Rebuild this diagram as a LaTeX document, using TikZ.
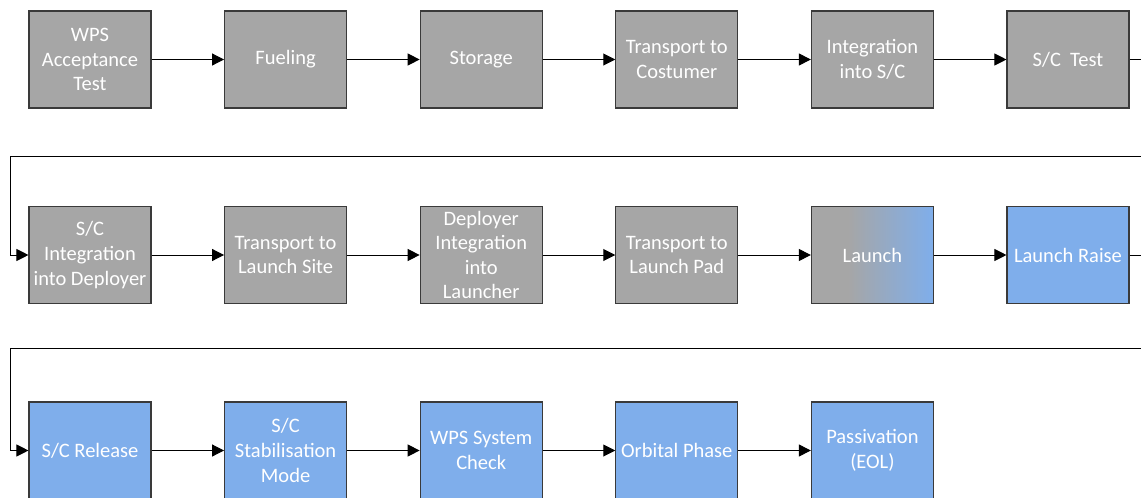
\documentclass[tikz,border=0pt]{standalone}
\usepackage{fontspec}
\setmainfont{Carlito}
\usetikzlibrary{arrows.meta}
\definecolor{boxgray}{HTML}{A6A6A6}
\definecolor{boxblue}{HTML}{7FAEEB}
\definecolor{boxline}{HTML}{3A3A3A}
% grey-to-blue blend for the launch stage
\pgfdeclarehorizontalshading{launchshade}{100bp}{color(0bp)=(boxgray); color(40bp)=(boxgray); color(75bp)=(boxblue); color(100bp)=(boxblue)}
\begin{document}
\begin{tikzpicture}[x=1pt,y=-1pt,
  stage/.style={draw=boxline, line width=1.1pt, minimum width=122pt, minimum height=97pt,
    inner sep=0pt, text=white, align=center, font=\fontsize{20.5}{24.6}\selectfont},
  ground/.style={stage, fill=boxgray},
  orbit/.style={stage, fill=boxblue},
  flow/.style={line width=1pt, draw=black, -{Triangle[length=12pt,width=12pt]}}]
\useasboundingbox (0,0) rectangle (1141,498);
\clip (0,0) rectangle (1141,498);

% row 1: ground segment
\node[ground] (acc)  at (90,59.5)    {WPS\\Acceptance\\Test};
\node[ground] (fuel) at (285.6,59.5) {Fueling};
\node[ground] (stor) at (481.2,59.5) {Storage};
\node[ground] (tcus) at (676.8,59.5) {Transport to\\Costumer};
\node[ground] (isc)  at (872.4,59.5) {Integration\\into S/C};
\node[ground] (sct)  at (1068,59.5)  {S/C\ \ Test};

% row 2: launch campaign
\node[ground] (idep) at (90,255)    {S/C\\Integration\\into Deployer};
\node[ground] (tls)  at (285.6,255) {Transport to\\Launch Site};
\node[ground] (dil)  at (481.2,255) {Deployer\\Integration\\into\\Launcher};
\node[ground] (tlp)  at (676.8,255) {Transport to\\Launch Pad};
\node[stage, shade, shading=launchshade] (lau) at (872.4,255) {Launch};
\node[orbit]  (lr)   at (1068,255)  {Launch Raise};

% row 3: in orbit
\node[orbit] (rel)  at (90,450.5)    {S/C Release};
\node[orbit] (stab) at (285.6,450.5) {S/C\\Stabilisation\\Mode};
\node[orbit] (chk)  at (481.2,450.5) {WPS System\\Check};
\node[orbit] (orb)  at (676.8,450.5) {Orbital Phase};
\node[orbit] (pas)  at (872.4,450.5) {Passivation\\(EOL)};

% wrap-around turning points
\coordinate (r1) at (1160,59.5);
\coordinate (w1) at (10.3,156.7);
\coordinate (r2) at (1160,255);
\coordinate (w2) at (10.3,348.3);

\draw[flow] (acc) -- (fuel);
\draw[flow] (fuel) -- (stor);
\draw[flow] (stor) -- (tcus);
\draw[flow] (tcus) -- (isc);
\draw[flow] (isc) -- (sct);
\draw[flow] (sct.east) -- (r1) |- (w1) |- (idep.west);

\draw[flow] (idep) -- (tls);
\draw[flow] (tls) -- (dil);
\draw[flow] (dil) -- (tlp);
\draw[flow] (tlp) -- (lau);
\draw[flow] (lau) -- (lr);
\draw[flow] (lr.east) -- (r2) |- (w2) |- (rel.west);

\draw[flow] (rel) -- (stab);
\draw[flow] (stab) -- (chk);
\draw[flow] (chk) -- (orb);
\draw[flow] (orb) -- (pas);
\end{tikzpicture}
\end{document}
